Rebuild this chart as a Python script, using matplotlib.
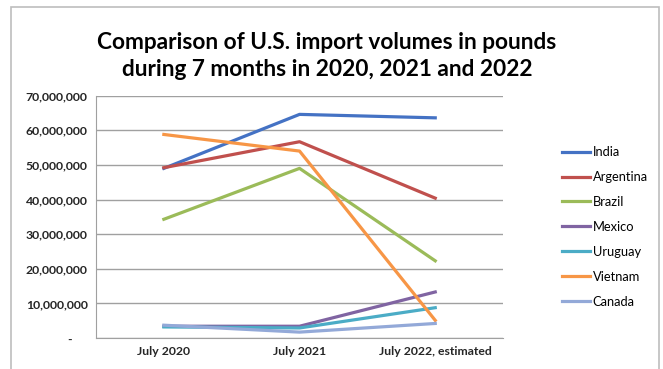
import matplotlib
matplotlib.use("Agg")
import matplotlib.pyplot as plt
from matplotlib.patches import Rectangle
from matplotlib.ticker import FuncFormatter

# data (pounds)
months = ["July 2020", "July 2021", "July 2022, estimated"]
india = [49.0e6, 64.6e6, 63.6e6]
argentina = [49.2e6, 56.7e6, 40.4e6]
brazil = [34.3e6, 49.0e6, 22.3e6]
mexico = [3.4e6, 3.4e6, 13.3e6]
uruguay = [3.2e6, 2.9e6, 8.75e6]
vietnam = [58.8e6, 54.0e6, 5.1e6]
canada = [3.7e6, 1.7e6, 4.2e6]

names = ["India", "Argentina", "Brazil", "Mexico", "Uruguay", "Vietnam", "Canada"]
series = [india, argentina, brazil, mexico, uruguay, vietnam, canada]
colors = ["#4472C4", "#C0504D", "#9BBB59", "#8064A2", "#4BACC6", "#F79646", "#93A9D8"]

plt.rcParams['font.family'] = ['Lato', 'DejaVu Sans']

fig = plt.figure(figsize=(6.63, 3.69), dpi=100)
# outer frame like the pasted Excel chart
fig.add_artist(Rectangle((11/663, -0.01), 648/663, 1 - 7/369 + 0.01,
                         transform=fig.transFigure, fill=False,
                         edgecolor="#bdbdbd", linewidth=1.2))

ax = fig.add_axes([0.1448, 0.0840, 0.614, 0.6567])
x = range(len(months))
for n, s, c in zip(names, series, colors):
    ax.plot(x, s, color=c, linewidth=2.3, label=n)

ax.set_xlim(-0.5, 2.5)
ax.set_ylim(0, 70e6)
ax.set_yticks(range(0, 70000001, 10000000))
ax.yaxis.set_major_formatter(FuncFormatter(lambda v, p: "-     " if v == 0 else f"{int(v):,}"))
ax.set_xticks(list(x))
ax.set_xticklabels(months)
ax.grid(axis="y", color="#a0a0a0", linewidth=1)
ax.set_axisbelow(True)
for sp in ["top", "right"]:
    ax.spines[sp].set_visible(False)
ax.spines["left"].set_color("#a0a0a0")
ax.spines["bottom"].set_color("#a0a0a0")
ax.tick_params(length=0, labelsize=8.8, pad=6)
for lbl in ax.get_xticklabels() + ax.get_yticklabels():
    lbl.set_fontweight("bold")
    lbl.set_color("#262626")

fig.text(0.493, 0.848, "Comparison of U.S. import volumes in pounds\nduring 7 months in 2020, 2021 and 2022",
         ha="center", va="center", fontsize=16.3, fontweight="bold", linespacing=1.4)

ax.legend(loc="center left", bbox_to_anchor=(550/663, 0.385), bbox_transform=fig.transFigure,
          frameon=False, fontsize=9.3, handlelength=2.2, handletextpad=0.2, labelspacing=1.0)

fig.savefig("out.png", dpi=100)
